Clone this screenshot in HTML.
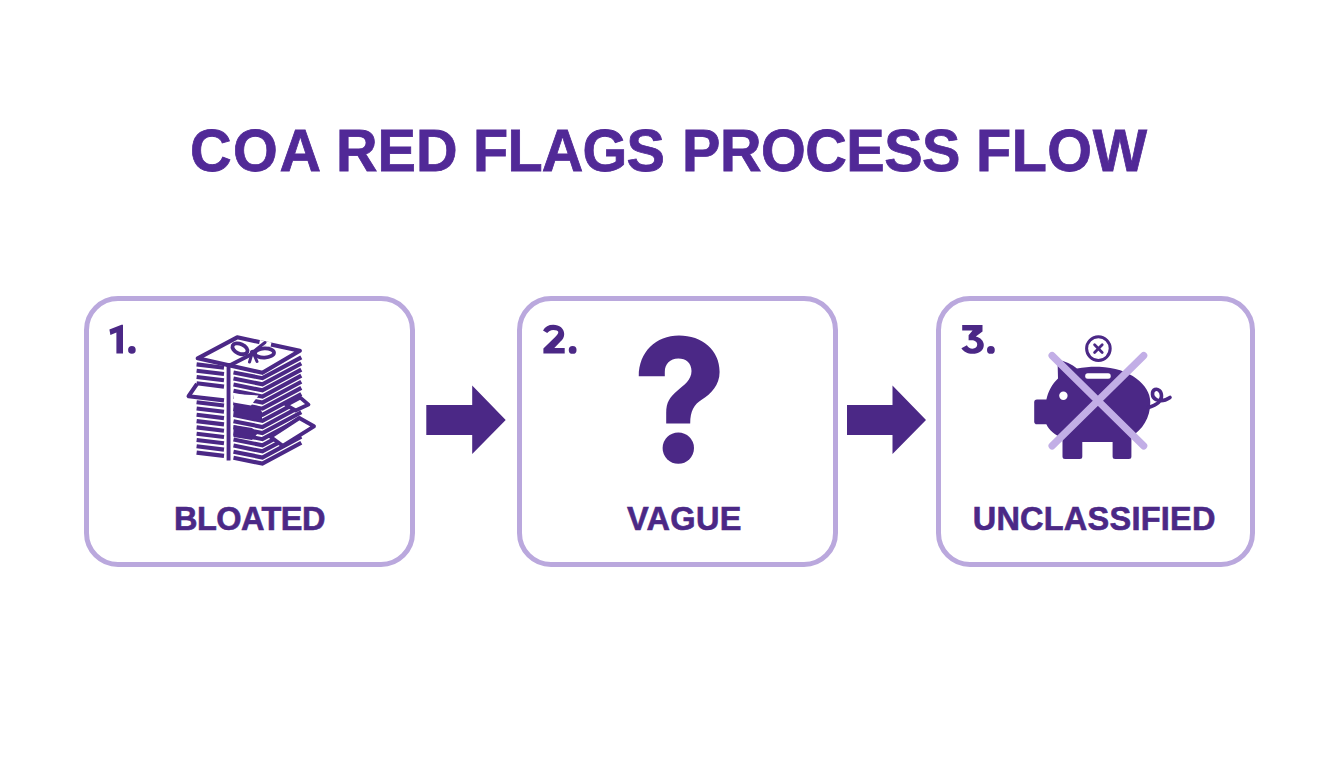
<!DOCTYPE html>
<html><head><meta charset="utf-8">
<style>
html,body{margin:0;padding:0;}
body{width:1344px;height:768px;background:#ffffff;position:relative;overflow:hidden;font-family:"Liberation Sans",sans-serif;}
.t{position:absolute;white-space:nowrap;font-weight:bold;color:#4b2886;line-height:1;}
.box{position:absolute;box-sizing:border-box;border:5.8px solid #baa8dd;border-radius:34px;background:transparent;}
svg{position:absolute;left:0;top:0;}
.tw{top:120.5px;font-size:60px;transform:scaleX(0.959);transform-origin:0 0;color:#512997;-webkit-text-stroke:0.8px #512997;}
.lb{-webkit-text-stroke:0.6px #4b2886;}
</style></head>
<body>
<div class="t tw" id="w1" style="left:190px;letter-spacing:1.6px;">COA</div>
<div class="t tw" id="w2" style="left:336px;">RED</div>
<div class="t tw" id="w3" style="left:473px;letter-spacing:-0.8px;">FLAGS</div>
<div class="t tw" id="w4" style="left:681.5px;letter-spacing:-0.52px;">PROCESS</div>
<div class="t tw" id="w5" style="left:976px;letter-spacing:0.55px;">FLOW</div>

<div class="box" style="left:83.5px;top:295.7px;width:331px;height:271.8px;"></div>
<div class="box" style="left:516.5px;top:295.7px;width:321px;height:271.8px;"></div>
<div class="box" style="left:936px;top:295.7px;width:319px;height:271.8px;"></div>





<div class="t lb" id="l1" style="left:174px;top:502.5px;font-size:32.5px;letter-spacing:-0.55px;">BLOATED</div>
<div class="t lb" id="l2" style="left:627px;top:502.5px;font-size:32.5px;letter-spacing:0.3px;">VAGUE</div>
<div class="t lb" id="l3" style="left:972.7px;top:502.5px;font-size:32.5px;letter-spacing:0.23px;">UNCLASSIFIED</div>

<svg width="1344" height="768" viewBox="0 0 1344 768">
  <!-- number 1 -->
  <path fill="#4b2886" d="M109.4 329.4 L121.5 324.7 L123 324.7 L123 353.6 L116.4 353.6 L116.4 332.4 L110.4 335.1 Z"/>
  <circle cx="131.9" cy="349.9" r="3.8" fill="#4b2886"/>
  <path fill="#4b2886" d="M543 330.4 C545 326.5 548.5 324.7 553.3 324.7 C559.5 324.7 564.2 328.5 564.2 333.9 C564.2 337 562.8 339.3 560.5 341.5 L554.3 348 L564.7 348 L564.7 353.4 L543.4 353.4 L543.4 348.6 L555.2 336.9 C557.3 334.9 558.3 333.4 558.3 331.9 C558.3 330.6 556 329.9 553.3 329.9 C550.5 329.9 548.5 331.2 547.2 333.1 Z"/>
  <circle cx="572.65" cy="349.9" r="3.9" fill="#4b2886"/>
  <path fill="#4b2886" d="M962.2 325 L982.5 325 L982.5 331.4 L975.8 336.4 C980.5 337.5 983.8 340.8 983.8 345 C983.8 350.5 979 353.8 972.5 353.8 C967.5 353.8 963.5 351.3 961.4 348.2 L966.9 345.2 C968 347.3 970 348.7 972.5 348.7 C975.3 348.7 977.2 347 977.2 344.6 C977.2 342 975 340.3 971.5 340.3 L968.6 340.3 L968.6 335.3 L972.6 330.6 L962.2 330.6 Z"/>
  <circle cx="990.9" cy="349.9" r="3.9" fill="#4b2886"/>
  <!-- arrows -->
  <path fill="#4b2886" d="M426.3 404.9 H472.2 V385.6 L505.7 419.9 L472.2 454 V435.1 H426.3 Z"/>
  <path fill="#4b2886" d="M847 404.9 H892.5 V385.6 L926 419.9 L892.5 454 V435.1 H847 Z"/>

  <!-- question mark -->
  <path fill="#4b2886" d="M638.75 376.25 C638.75 352 656 335.6 679 335.6 C702 335.6 719.6 350 719.6 372 C719.6 385 711 394 702 399.5 C694 404.5 690.2 411 690.2 423.4 L666.2 423.4 L666.2 413 C666.2 402 670 397 677 391 C684 385 691.5 380 691.5 371 C691.5 363 686 358.5 678.3 358.5 C670 358.5 664.8 364 664.8 372 L664.8 376.25 Z"/>
  <circle cx="678.3" cy="448.1" r="15.7" fill="#4b2886"/>

  <!-- piggy -->
  <g fill="#4b2886">
    <path d="M1046.4 424.2 L1046.4 399.6 C1048 392 1052 384 1058 378.5 L1057.5 359.5 C1065 361 1072 364.5 1077 368.4 C1085 367 1093 366.5 1099.3 366.8 C1130 368 1150.3 385 1150.3 402 C1150.5 418 1142 430 1131.4 436.4 L1131.4 456.6 Q1131.4 459.1 1128.9 459.1 L1115.1 459.1 Q1112.6 459.1 1112.6 456.6 L1112.6 442.1 L1082.3 442.1 L1082.3 456.6 Q1082.3 459.1 1079.8 459.1 L1065 459.1 Q1062.5 459.1 1062.5 456.6 L1062.5 438.3 C1055 435 1049 430 1046.4 424.2 Z"/>
    <rect x="1034.2" y="399.6" width="15" height="24.6" rx="2.8"/>
  </g>
  <path d="M1148.5 407.5 C1155 405.5 1161.5 402 1161.5 396 C1161.5 390.5 1157.5 388.5 1155 389.5 C1151.5 391 1151.5 397.5 1156 399.5 C1160 401.5 1165.5 400.5 1170 397.5" fill="none" stroke="#4b2886" stroke-width="3.6" stroke-linecap="round"/>
  <circle cx="1063.4" cy="395.8" r="4.2" fill="#ffffff"/>
  <rect x="1085.2" y="373.2" width="25.5" height="5.6" rx="2.5" fill="#ffffff"/>
  <circle cx="1098.4" cy="348.6" r="11.8" fill="none" stroke="#4b2886" stroke-width="3"/>
  <path d="M1094.6 344.8 L1102.2 352.4 M1102.2 344.8 L1094.6 352.4" stroke="#4b2886" stroke-width="2.8" stroke-linecap="round"/>
  <path d="M1052.1 355.6 L1143.7 445.9 M1143.7 355.6 L1052.1 445.9" stroke="#c2aee6" stroke-width="7.2" stroke-linecap="round"/>

  <!-- paper stack -->
  <g id="stack">
<line x1="196.6" y1="364.40" x2="224" y2="367.69" stroke="#4b2886" stroke-width="4.1"/>
<line x1="196.6" y1="370.70" x2="224" y2="373.99" stroke="#4b2886" stroke-width="4.1"/>
<line x1="196.6" y1="377.00" x2="224" y2="380.29" stroke="#4b2886" stroke-width="4.1"/>
<line x1="196.6" y1="383.30" x2="224" y2="386.59" stroke="#4b2886" stroke-width="4.1"/>
<path d="M197 383.8 L188.6 396.2 L224 400.39" fill="none" stroke="#4b2886" stroke-width="4.1" stroke-linejoin="round" stroke-linecap="butt"/>
<line x1="196.6" y1="402.20" x2="224" y2="405.49" stroke="#4b2886" stroke-width="4.1"/>
<line x1="196.6" y1="408.50" x2="224" y2="411.79" stroke="#4b2886" stroke-width="4.1"/>
<line x1="196.6" y1="414.80" x2="224" y2="418.09" stroke="#4b2886" stroke-width="4.1"/>
<line x1="196.6" y1="421.10" x2="224" y2="424.39" stroke="#4b2886" stroke-width="4.1"/>
<line x1="196.6" y1="427.40" x2="224" y2="430.69" stroke="#4b2886" stroke-width="4.1"/>
<line x1="196.6" y1="433.70" x2="224" y2="436.99" stroke="#4b2886" stroke-width="4.1"/>
<line x1="196.6" y1="440.00" x2="224" y2="443.29" stroke="#4b2886" stroke-width="4.1"/>
<line x1="196.6" y1="446.30" x2="224" y2="449.59" stroke="#4b2886" stroke-width="4.1"/>
<line x1="196.6" y1="452.60" x2="224" y2="455.89" stroke="#4b2886" stroke-width="4.1"/>
<polyline points="233.5,372.40 262.4,378.18 301.3,357.37" fill="none" stroke="#4b2886" stroke-width="4.1" stroke-linejoin="miter"/>
<polyline points="233.5,378.50 262.4,384.28 301.3,363.47" fill="none" stroke="#4b2886" stroke-width="4.1" stroke-linejoin="miter"/>
<polyline points="233.5,384.60 262.4,390.38 301.3,369.57" fill="none" stroke="#4b2886" stroke-width="4.1" stroke-linejoin="miter"/>
<polyline points="233.5,390.70 262.4,396.48 301.3,375.67" fill="none" stroke="#4b2886" stroke-width="4.1" stroke-linejoin="miter"/>
<polyline points="233.5,396.80 262.4,402.58 301.3,381.77" fill="none" stroke="#4b2886" stroke-width="4.1" stroke-linejoin="miter"/>
<polyline points="233.5,402.90 262.4,408.68 301.3,387.87" fill="none" stroke="#4b2886" stroke-width="4.1" stroke-linejoin="miter"/>
<polyline points="233.5,409.00 262.4,414.78 301.3,393.97" fill="none" stroke="#4b2886" stroke-width="4.1" stroke-linejoin="miter"/>
<polyline points="233.5,415.10 262.4,420.88 301.3,400.07" fill="none" stroke="#4b2886" stroke-width="4.1" stroke-linejoin="miter"/>
<polyline points="233.5,421.20 262.4,426.98 301.3,406.17" fill="none" stroke="#4b2886" stroke-width="4.1" stroke-linejoin="miter"/>
<polyline points="233.5,427.30 262.4,433.08 301.3,412.27" fill="none" stroke="#4b2886" stroke-width="4.1" stroke-linejoin="miter"/>
<polyline points="233.5,433.40 262.4,439.18 301.3,418.37" fill="none" stroke="#4b2886" stroke-width="4.1" stroke-linejoin="miter"/>
<polyline points="233.5,439.50 262.4,445.28 301.3,424.47" fill="none" stroke="#4b2886" stroke-width="4.1" stroke-linejoin="miter"/>
<polyline points="233.5,445.60 262.4,451.38 301.3,430.57" fill="none" stroke="#4b2886" stroke-width="4.1" stroke-linejoin="miter"/>
<polyline points="233.5,451.70 262.4,457.48 301.3,436.67" fill="none" stroke="#4b2886" stroke-width="4.1" stroke-linejoin="miter"/>
<polyline points="233.5,457.80 262.4,463.58 301.3,442.77" fill="none" stroke="#4b2886" stroke-width="4.1" stroke-linejoin="miter"/>
<path d="M233.5 402 L258 406 L262 412 L262 421 L233.5 416 Z" fill="#4b2886"/>
<path d="M233.5 394 L258.5 395.5 L251 405.5 L233.5 402.5 Z" fill="#ffffff"/>
<path d="M233.5 425 L252 428 L258 433 L252 440 L233.5 437 Z" fill="#4b2886"/>
<path d="M286.3 405.2 L300.3 397.6 L308.5 404.6 L295.6 410.5 Z" fill="#ffffff" stroke="#4b2886" stroke-width="3.8" stroke-linejoin="round"/>
<path d="M270.5 436.8 L299.3 418 L314 426.3 L282.7 445.8 Z" fill="#ffffff" stroke="#4b2886" stroke-width="3.9" stroke-linejoin="round"/>
<path d="M197.8 358.3 L237.2 337.3 L299.8 350.8 L262.4 372.8 Z" fill="#ffffff" stroke="#4b2886" stroke-width="4.2" stroke-linejoin="round"/>
<line x1="259.5" y1="342.2" x2="271" y2="344.6" stroke="#ffffff" stroke-width="4.5"/>
<rect x="226.6" y="363" width="3.9" height="97.5" fill="#4b2886"/>
<line x1="228.5" y1="366" x2="253" y2="353.5" stroke="#4b2886" stroke-width="3.8" stroke-linecap="round"/>
<ellipse cx="240" cy="348.8" rx="8" ry="4.8" transform="rotate(24 240 348.8)" fill="none" stroke="#4b2886" stroke-width="3.8"/>
<ellipse cx="264.5" cy="353" rx="9.5" ry="4.6" transform="rotate(-3 264.5 353)" fill="none" stroke="#4b2886" stroke-width="3.8"/>
<path d="M252 353.5 L249.5 362 M253.5 353.5 L257 361.5 M253 352 L265 342.5" stroke="#4b2886" stroke-width="3" stroke-linecap="round"/>
<circle cx="253" cy="353" r="3.2" fill="#4b2886"/>
</g>
</svg>
</body></html>
